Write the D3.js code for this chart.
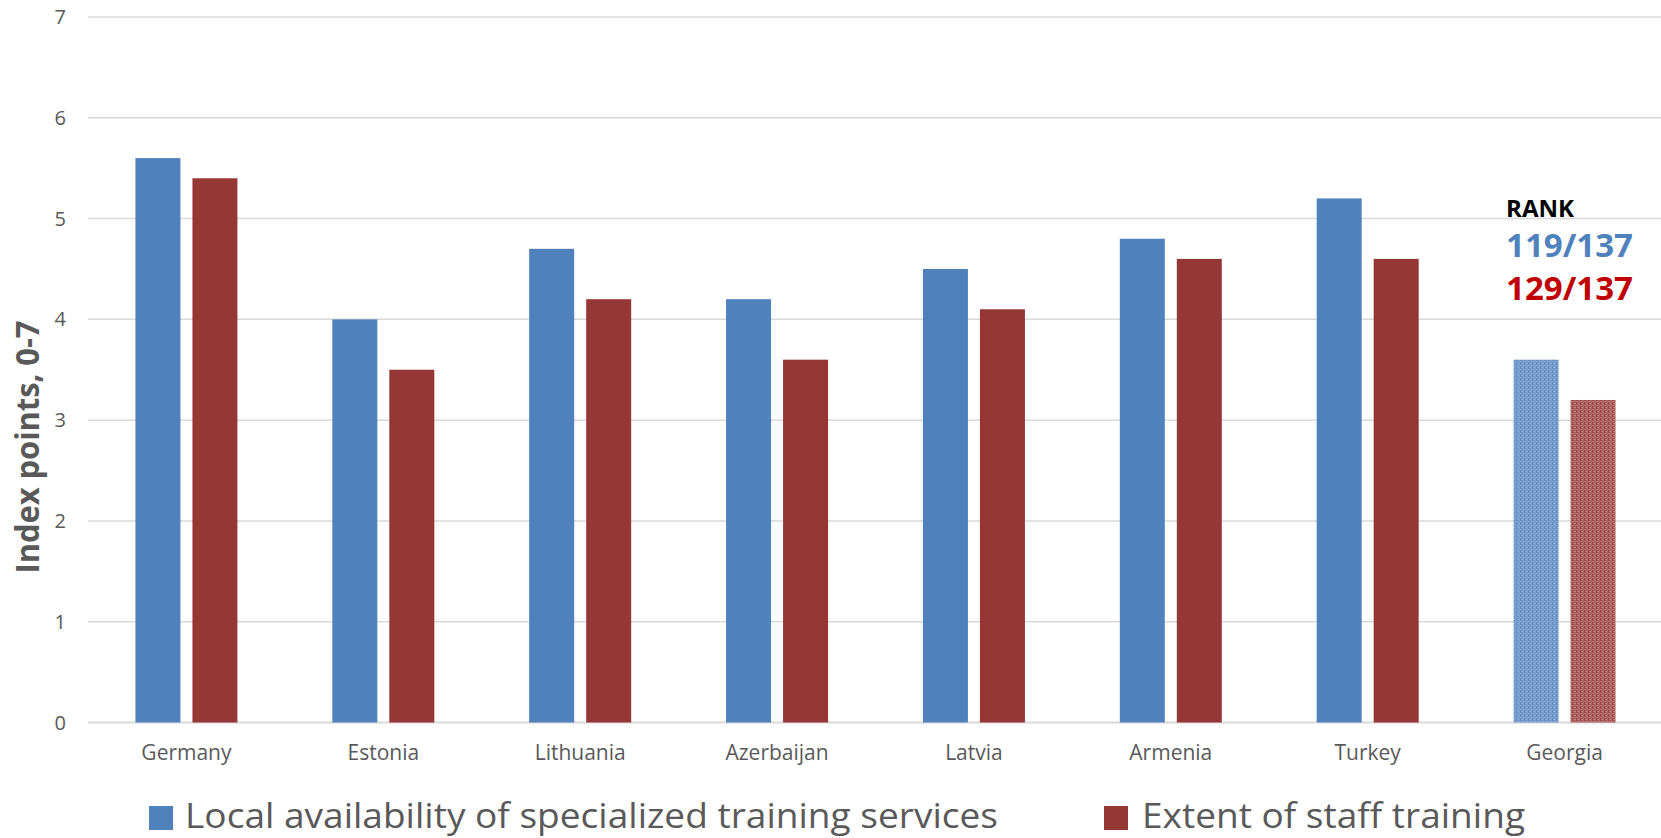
<!DOCTYPE html>
<html>
<head>
<meta charset="utf-8">
<script src="https://cdn.jsdelivr.net/npm/d3@7.9.0/dist/d3.min.js"></script>
<style>
  body { margin: 0; background: #fff; }
  svg { display: block; font-family: "Open Sans", sans-serif; }
</style>
</head>
<body>
<svg width="1661" height="838"></svg>
<script>
// data
const countries = ['Germany', 'Estonia', 'Lithuania', 'Azerbaijan', 'Latvia', 'Armenia', 'Turkey', 'Georgia'];
const seriesNames = ['Local availability of specialized training services', 'Extent of staff training'];
const availability = [5.6, 4.0, 4.7, 4.2, 4.5, 4.8, 5.2, 3.6];
const staffTraining = [5.4, 3.5, 4.2, 3.6, 4.1, 4.6, 4.6, 3.2];
const yTicks = [0, 1, 2, 3, 4, 5, 6, 7];
const rankLabels = ['RANK', '119/137', '129/137'];

const colors = ['#4F81BD', '#953735'];
const highlight = 'Georgia';

const svg = d3.select('svg');

const x0 = d3.scaleBand().domain(countries).range([88, 1663]);
const groupW = 102;
const x1 = d3.scaleBand().domain([0, 1]).range([0, groupW]).paddingInner(12 / 57);
const y = d3.scaleLinear().domain([0, 7]).range([722.5, 17]);

// pattern fills for Georgia bars (lighter dotted grid)
const defs = svg.append('defs');
colors.forEach((c, i) => {
  const p = defs.append('pattern')
    .attr('id', 'pat' + i)
    .attr('patternUnits', 'userSpaceOnUse')
    .attr('width', 4).attr('height', 4);
  p.append('rect').attr('width', 4).attr('height', 4).attr('fill', c);
  p.append('rect').attr('x', 1).attr('width', 1).attr('height', 4).attr('fill', '#fff').attr('opacity', 0.45);
  p.append('rect').attr('x', 3).attr('width', 1).attr('height', 4).attr('fill', '#fff').attr('opacity', 0.2);
  p.append('rect').attr('x', 3).attr('y', 1).attr('width', 1).attr('height', 1).attr('fill', '#fff').attr('opacity', 0.6);
  p.append('rect').attr('x', 0).attr('y', 3).attr('width', 1).attr('height', 1).attr('fill', '#fff').attr('opacity', 0.4);
});

// gridlines
svg.append('g')
  .selectAll('line')
  .data(yTicks)
  .join('line')
  .attr('x1', 88).attr('x2', 1661)
  .attr('y1', d => y(d)).attr('y2', d => y(d))
  .attr('stroke', '#D9D9D9')
  .attr('stroke-width', d => d === 0 ? 2 : 1.5);

// y tick labels
svg.append('g')
  .selectAll('text')
  .data(yTicks)
  .join('text')
  .attr('x', 66)
  .attr('y', d => y(d))
  .attr('dy', '0.35em')
  .attr('text-anchor', 'end')
  .attr('font-size', 20)
  .attr('fill', '#595959')
  .text(d => d);

// bars
const rows = countries.map((c, i) => ({ country: c, values: [availability[i], staffTraining[i]] }));
const groups = svg.append('g')
  .selectAll('g')
  .data(rows)
  .join('g')
  .attr('transform', d => `translate(${x0(d.country) + (x0.bandwidth() - groupW) / 2},0)`);

groups.selectAll('rect')
  .data(d => d.values.map((v, k) => ({ country: d.country, k, v })))
  .join('rect')
  .attr('x', d => x1(d.k))
  .attr('width', x1.bandwidth())
  .attr('y', d => y(d.v))
  .attr('height', d => y(0) - y(d.v))
  .attr('fill', d => d.country === highlight ? `url(#pat${d.k})` : colors[d.k]);

// x labels
svg.append('g')
  .selectAll('text')
  .data(countries)
  .join('text')
  .attr('x', d => x0(d) + x0.bandwidth() / 2)
  .attr('y', 760)
  .attr('text-anchor', 'middle')
  .attr('font-size', 21)
  .attr('fill', '#595959')
  .text(d => d);

// y axis title
svg.append('text')
  .attr('transform', 'translate(39,447) rotate(-90)')
  .attr('text-anchor', 'middle')
  .attr('font-size', 33)
  .attr('font-weight', 'bold')
  .attr('fill', '#595959')
  .attr('textLength', 253)
  .attr('lengthAdjust', 'spacingAndGlyphs')
  .text('Index points, 0-7');

// rank annotation
const rankStyle = [
  { y: 216.5, size: 23, w: 68, fill: '#000' },
  { y: 257, size: 33, w: 127, fill: '#4F81BD' },
  { y: 300, size: 33, w: 127, fill: '#C00000' }
];
svg.append('g')
  .selectAll('text')
  .data(rankLabels)
  .join('text')
  .attr('x', 1506)
  .attr('y', (d, i) => rankStyle[i].y)
  .attr('font-size', (d, i) => rankStyle[i].size)
  .attr('font-weight', 'bold')
  .attr('fill', (d, i) => rankStyle[i].fill)
  .attr('textLength', (d, i) => rankStyle[i].w)
  .attr('lengthAdjust', 'spacingAndGlyphs')
  .text(d => d);

// legend
const legendPos = [
  { sx: 149, tx: 185, w: 813 },
  { sx: 1104, tx: 1142, w: 383 }
];
const legend = svg.append('g')
  .selectAll('g')
  .data(seriesNames)
  .join('g');
legend.append('rect')
  .attr('x', (d, i) => legendPos[i].sx)
  .attr('y', 806)
  .attr('width', 24).attr('height', 24)
  .attr('fill', (d, i) => colors[i]);
legend.append('text')
  .attr('x', (d, i) => legendPos[i].tx)
  .attr('y', 828)
  .attr('font-size', 34)
  .attr('fill', '#595959')
  .attr('textLength', (d, i) => legendPos[i].w)
  .attr('lengthAdjust', 'spacingAndGlyphs')
  .text(d => d);
</script>
</body>
</html>
